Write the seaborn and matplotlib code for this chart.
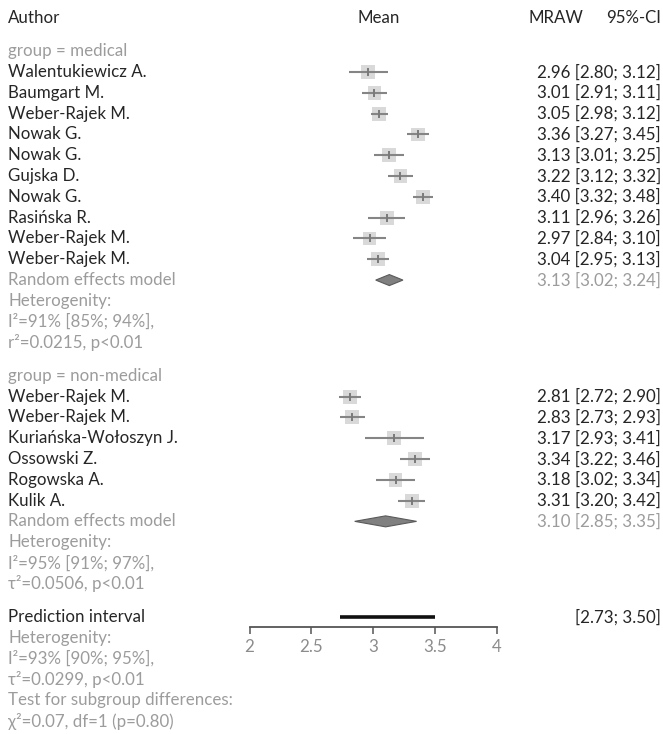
import matplotlib
matplotlib.use("Agg")
import matplotlib.pyplot as plt
import matplotlib.transforms as mtransforms
import seaborn as sns
import numpy as np
import pandas as pd

# ---- study data ---------------------------------------------------------
med_authors = ["Walentukiewicz A.", "Baumgart M.", "Weber-Rajek M.", "Nowak G.",
               "Nowak G.", "Gujska D.", "Nowak G.", "Rasińska R.",
               "Weber-Rajek M.", "Weber-Rajek M."]
med_mean = [2.96, 3.01, 3.05, 3.36, 3.13, 3.22, 3.40, 3.11, 2.97, 3.04]
med_lo = [2.80, 2.91, 2.98, 3.27, 3.01, 3.12, 3.32, 2.96, 2.84, 2.95]
med_hi = [3.12, 3.11, 3.12, 3.45, 3.25, 3.32, 3.48, 3.26, 3.10, 3.13]

non_authors = ["Weber-Rajek M.", "Weber-Rajek M.", "Kuriańska-Wołoszyn J.",
               "Ossowski Z.", "Rogowska A.", "Kulik A."]
non_mean = [2.81, 2.83, 3.17, 3.34, 3.18, 3.31]
non_lo = [2.72, 2.73, 2.93, 3.22, 3.02, 3.20]
non_hi = [2.90, 2.93, 3.41, 3.46, 3.34, 3.42]

# random effects summaries: mean, lower, upper
med_re = [3.13, 3.02, 3.24]
non_re = [3.10, 2.85, 3.35]
pred_interval = [2.73, 3.50]

med_het = ["Heterogenity:", "I²=91% [85%; 94%],", "r²=0.0215, p<0.01"]
non_het = ["Heterogenity:", "I²=95% [91%; 97%],", "τ²=0.0506, p<0.01"]
all_het = ["Heterogenity:", "I²=93% [90%; 95%],", "τ²=0.0299, p<0.01",
           "Test for subgroup differences:", "χ²=0.07, df=1 (p=0.80)"]

x_ticks = [2, 2.5, 3, 3.5, 4]
x_tick_labels = ["2", "2.5", "3", "3.5", "4"]

# ---- figure / layout ----------------------------------------------------
W, H, DPI = 663, 734, 100
ROW_H = 20.8          # pixel height of one text row
Y0 = 18               # pixel centre of the header row
GAP = 1.6             # rows between blocks

sns.set_theme(style="white")
plt.rcParams["font.family"] = ["Lato", "DejaVu Sans"]
FS = 12.2
DARK = "#262626"
GREY = "#9c9c9c"

fig = plt.figure(figsize=(W / DPI, H / DPI), dpi=DPI)
axis_px = 627
x_left, x_right = 249.5, 497.0
ax = fig.add_axes([x_left / W, (H - axis_px) / H, (x_right - x_left) / W, axis_px / H])
ax.set_xlim(2, 4)
ax.set_ylim((axis_px - Y0) / ROW_H, -Y0 / ROW_H)
ax.patch.set_alpha(0)

# row positions
r_header = 0.0
r_med_label = GAP
r_med = [r_med_label + 1 + i for i in range(len(med_authors))]
r_med_re = r_med[-1] + 1
r_med_het = [r_med_re + 1 + i for i in range(len(med_het))]
r_non_label = r_med_het[-1] + GAP
r_non = [r_non_label + 1 + i for i in range(len(non_authors))]
r_non_re = r_non[-1] + 1
r_non_het = [r_non_re + 1 + i for i in range(len(non_het))]
r_pred = r_non_het[-1] + GAP
r_all_het = [r_pred + 1 + i for i in range(len(all_het))]

studies = pd.DataFrame({
    "author": med_authors + non_authors,
    "mean": med_mean + non_mean,
    "lo": med_lo + non_lo,
    "hi": med_hi + non_hi,
    "row": r_med + r_non,
})

# weight squares
sns.scatterplot(data=studies, x="mean", y="row", marker="s", s=100,
                color="#d9d9d9", edgecolor="none", ax=ax, zorder=2, clip_on=False)
# confidence intervals
ax.hlines(studies["row"], studies["lo"], studies["hi"], color="#858585",
          lw=1.5, zorder=3)
ax.plot(studies["mean"], studies["row"], linestyle="none", marker="|",
        markersize=5.5, mew=1.4, color="#7a7a7a", zorder=4)

# summary diamonds
half = 5.5 / ROW_H
for (m, lo, hi), r in [(med_re, r_med_re), (non_re, r_non_re)]:
    ax.fill([lo, m, hi, m], [r, r - half, r, r + half], facecolor="#808080",
            edgecolor="#5a5a5a", lw=0.8, zorder=3)

# prediction interval
ax.hlines([r_pred], [pred_interval[0]], [pred_interval[1]], color="#111111",
          lw=2.6, zorder=3)

# x axis
for s in ["top", "left", "right"]:
    ax.spines[s].set_visible(False)
ax.spines["bottom"].set_color("#555555")
ax.spines["bottom"].set_linewidth(1.3)
ax.spines["bottom"].set_bounds(2, 4)
ax.set_yticks([])
ax.set_xticks(x_ticks)
ax.set_xticklabels(x_tick_labels)
ax.tick_params(axis="x", direction="out", length=5, width=1.1, color="#555555",
               labelcolor="#8c8c8c", labelsize=FS, pad=4, bottom=True)
ax.set_xlabel("")
ax.set_ylabel("")

# ---- text columns ---------------------------------------------------------
trans = mtransforms.blended_transform_factory(fig.transFigure, ax.transData)


def put(x_px, row, s, color=DARK, ha="left"):
    ax.text(x_px / W, row, s, transform=trans, ha=ha, va="center",
            fontsize=FS, color=color, clip_on=False)


X_TXT = 8
X_RIGHT = 661

put(X_TXT, r_header, "Author")
put(379, r_header, "Mean", ha="center")
put(528, r_header, "MRAW")
put(X_RIGHT, r_header, "95%-CI", ha="right")

put(X_TXT, r_med_label, "group = medical", GREY)
put(X_TXT, r_non_label, "group = non-medical", GREY)

for a, m, lo, hi, r in studies[["author", "mean", "lo", "hi", "row"]].itertuples(index=False):
    put(X_TXT, r, a)
    put(X_RIGHT, r, f"{m:.2f} [{lo:.2f}; {hi:.2f}]", ha="right")

for (m, lo, hi), r in [(med_re, r_med_re), (non_re, r_non_re)]:
    put(X_TXT, r, "Random effects model", GREY)
    put(X_RIGHT, r, f"{m:.2f} [{lo:.2f}; {hi:.2f}]", GREY, ha="right")

for lines, rows in [(med_het, r_med_het), (non_het, r_non_het), (all_het, r_all_het)]:
    for s, r in zip(lines, rows):
        put(X_TXT, r, s, GREY)

put(X_TXT, r_pred, "Prediction interval")
put(X_RIGHT, r_pred, f"[{pred_interval[0]:.2f}; {pred_interval[1]:.2f}]", ha="right")

fig.savefig("out.png", dpi=DPI)
